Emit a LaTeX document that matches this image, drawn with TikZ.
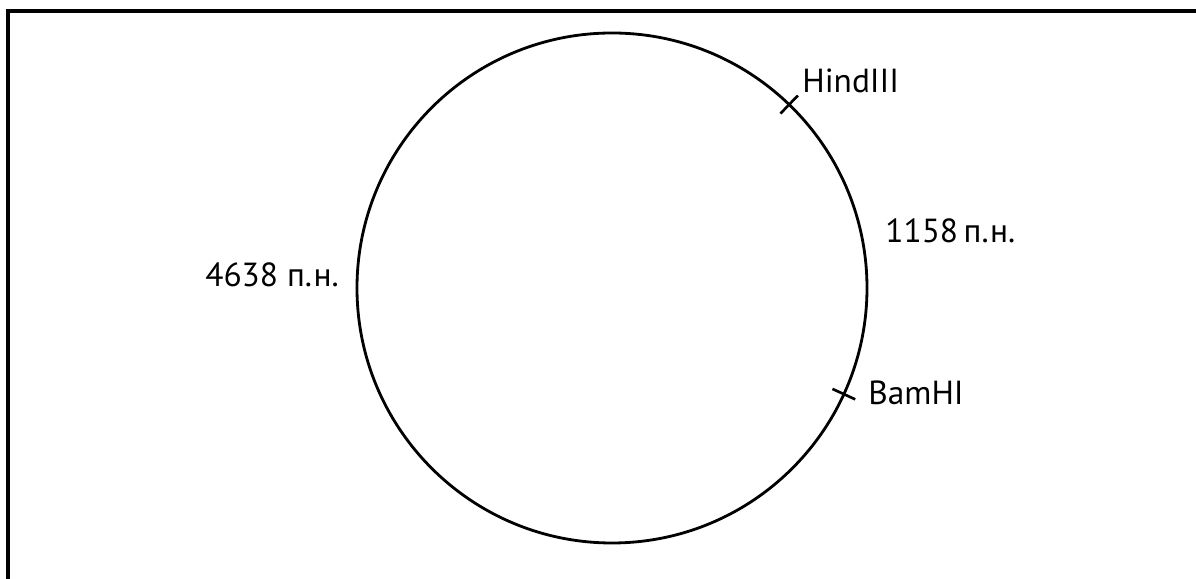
\documentclass[tikz,border=0pt]{standalone}
\usepackage{fontspec}
\setmainfont{PT Sans}
\usetikzlibrary{calc}
\tikzset{
  site/.style={line width=1.5pt},
  lbl/.style={anchor=base west, inner sep=0pt, font=\fontsize{19}{21}\selectfont}
}
\begin{document}
\begin{tikzpicture}
      \useasboundingbox (0,0) rectangle (23.92,11.58);
      % frame (top and left only)
      \draw[line width=1.8pt] (0.16,0) -- (0.16,11.36) -- (23.92,11.36);
      % plasmid
      \coordinate (c) at (12.24,5.82);
      \draw[line width=1.6pt] (c) circle (5.1);
      \draw[site] ($(c)+(46:4.85)$) -- ($(c)+(46:5.35)$);
      \draw[site] ($(c)+(-24.6:4.85)$) -- ($(c)+(-24.6:5.35)$);
      \node[lbl] (hind) at (16.04,9.72) {HindIII};
      \node[lbl] (bam) at (17.36,3.48) {BamHI};
      \node[lbl] (short) at (17.7,6.72) {1158\,п.н.};
      \node[lbl] (long) at (4.1,5.84) {4638 п.н.};
    \end{tikzpicture}
\end{document}
